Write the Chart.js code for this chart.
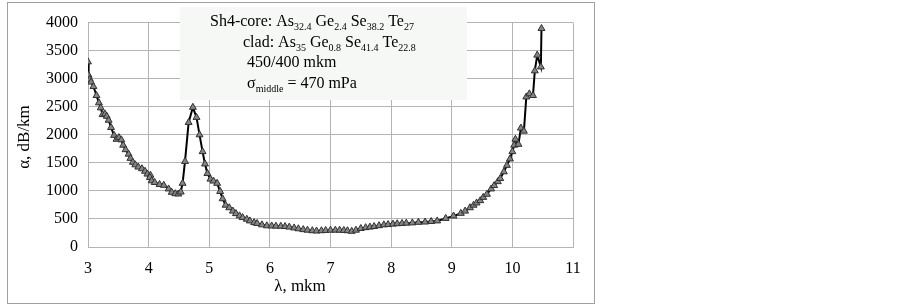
<!DOCTYPE html>
<html>
<head>
<meta charset="utf-8">
<script src="https://cdn.jsdelivr.net/npm/chart.js@4/dist/chart.umd.min.js"></script>
<style>
  body { margin: 0; background: #fff; }
  #box { position: absolute; left: 7px; top: 2px; width: 586px; height: 300px; border: 1px solid #a0a0a0; }
  #chart { display: block; }
</style>
</head>
<body>
<div id="box"><canvas id="chart" width="586" height="300"></canvas></div>
<script>
// wavelength, mkm
var lambda = [
  3.00, 3.01, 3.03, 3.05, 3.09, 3.14, 3.18, 3.21, 3.24, 3.28, 3.31, 3.34, 3.38, 3.43, 3.47, 3.51,
  3.55, 3.58, 3.62, 3.67, 3.70, 3.74, 3.78, 3.83, 3.89, 3.94, 3.98, 4.03, 4.02, 4.05, 4.10, 4.18,
  4.25, 4.33, 4.38, 4.44, 4.49, 4.53, 4.56, 4.60, 4.66, 4.73, 4.79, 4.84, 4.89, 4.93, 4.97, 5.02,
  5.07, 5.13, 5.18, 5.22, 5.27, 5.33, 5.39, 5.44, 5.50, 5.55, 5.62, 5.67, 5.74, 5.79, 5.87, 5.95,
  6.03, 6.10, 6.18, 6.25, 6.32, 6.40, 6.47, 6.55, 6.62, 6.70, 6.77, 6.85, 6.92, 7.00, 7.08, 7.15,
  7.22, 7.28, 7.35, 7.42, 7.50, 7.58, 7.65, 7.72, 7.80, 7.88, 7.95, 8.03, 8.10, 8.18, 8.25, 8.35,
  8.45, 8.56, 8.66, 8.76, 8.90, 9.03, 9.15, 9.22, 9.30, 9.36, 9.41, 9.47, 9.52, 9.58, 9.65, 9.70,
  9.76, 9.80, 9.86, 9.91, 9.96, 10.00, 10.03, 10.05, 10.10, 10.14, 10.19, 10.23, 10.28, 10.34, 10.37, 10.41,
  10.47, 10.48
];
// attenuation, dB/km
var alpha = [
  3300, 3060, 2990, 2940, 2860, 2700, 2570, 2480, 2360, 2370, 2330, 2260, 2130, 1990, 1920, 1950,
  1910, 1815, 1735, 1655, 1580, 1510, 1465, 1425, 1395, 1350, 1300, 1280, 1240, 1180, 1150, 1115,
  1100, 1035, 975, 950, 945, 980, 1135, 1525, 2220, 2490, 2310, 2000, 1700, 1480, 1310, 1210,
  1175, 1135, 990, 860, 745, 700, 640, 595, 555, 525, 495, 465, 435, 420, 395, 378,
  375, 372, 370, 365, 355, 340, 325, 310, 300, 290, 285, 290, 295, 300, 300, 300,
  295, 290, 280, 300, 330, 345, 355, 365, 380, 395, 400, 408, 415, 420, 425, 430,
  440, 445, 455, 465, 510, 553, 600, 640, 700, 745, 785, 826, 885, 940, 1035, 1095,
  1165, 1220, 1340, 1455, 1570, 1700, 1815, 1920, 1830, 2120, 2065, 2675, 2730, 2700, 3140, 3420,
  3210, 3895
];

var xTitle = 'λ, mkm';
var yTitle = 'α, dB/km';
// annotation lines: [text, subscript?]
var noteLines = [
  [['Sh4-core: As', 0], ['32.4', 1], [' Ge', 0], ['2.4', 1], [' Se', 0], ['38.2', 1], [' Te', 0], ['27', 1]],
  [['clad: As', 0], ['35', 1], [' Ge', 0], ['0.8', 1], [' Se', 0], ['41.4', 1], [' Te', 0], ['22.8', 1]],
  [['450/400 mkm', 0]],
  [['σ', 0], ['middle', 1], [' = 470 mPa', 0]]
];

var pts = [];
for (var i = 0; i < lambda.length; i++) {
  pts.push({ x: lambda[i], y: alpha[i] });
}

var serif = '"Liberation Serif", "Times New Roman", serif';

var extras = {
  id: 'extras',
  beforeDatasetsDraw: function (chart) {
    var ctx = chart.ctx;
    ctx.save();
    // annotation box
    ctx.fillStyle = '#f6f8f6';
    ctx.fillRect(172, 4, 287, 93);
    ctx.fillStyle = '#000';
    ctx.textBaseline = 'alphabetic';
    var starts = [[202, 23], [235, 44], [239, 64], [239, 85]];
    for (var l = 0; l < noteLines.length; l++) {
      var x = starts[l][0], y = starts[l][1];
      var runs = noteLines[l];
      for (var r = 0; r < runs.length; r++) {
        var sub = runs[r][1];
        ctx.font = (sub ? '10px ' : '16px ') + serif;
        ctx.fillText(runs[r][0], x, sub ? y + 4 : y);
        x += ctx.measureText(runs[r][0]).width;
      }
    }
    ctx.restore();
  },
  afterDraw: function (chart) {
    var ctx = chart.ctx;
    ctx.save();
    ctx.fillStyle = '#000';
    ctx.font = '17px ' + serif;
    ctx.textAlign = 'center';
    ctx.textBaseline = 'middle';
    ctx.fillText(xTitle, 292, 284);
    ctx.translate(17, 134);
    ctx.rotate(-Math.PI / 2);
    ctx.fillText(yTitle, 0, 0);
    ctx.restore();
  }
};

new Chart(document.getElementById('chart'), {
  type: 'scatter',
  data: {
    datasets: [{
      data: pts,
      showLine: true,
      borderColor: '#000',
      borderWidth: 2,
      pointStyle: 'triangle',
      pointRadius: 4,
      pointBackgroundColor: '#858585',
      pointBorderColor: '#303030',
      pointBorderWidth: 1
    }]
  },
  options: {
    responsive: false,
    animation: false,
    layout: { padding: { left: 0, right: 21, top: 14, bottom: 0 } },
    plugins: { legend: { display: false }, tooltip: { enabled: false } },
    scales: {
      x: {
        type: 'linear',
        min: 3,
        max: 11,
        afterFit: function (s) { s.height = 56; },
        grid: { color: '#b4b4b4', drawTicks: false },
        border: { color: '#b4b4b4' },
        ticks: { stepSize: 1, padding: 12, color: '#000', font: { family: serif, size: 16 } }
      },
      y: {
        min: 0,
        max: 4000,
        afterFit: function (s) { s.width = 80; },
        grid: { color: '#b4b4b4', drawTicks: false },
        border: { color: '#b4b4b4' },
        ticks: {
          stepSize: 500, padding: 10, color: '#000', font: { family: serif, size: 16 },
          callback: function (v) { return String(v); }
        }
      }
    }
  },
  plugins: [extras]
});
</script>
</body>
</html>
